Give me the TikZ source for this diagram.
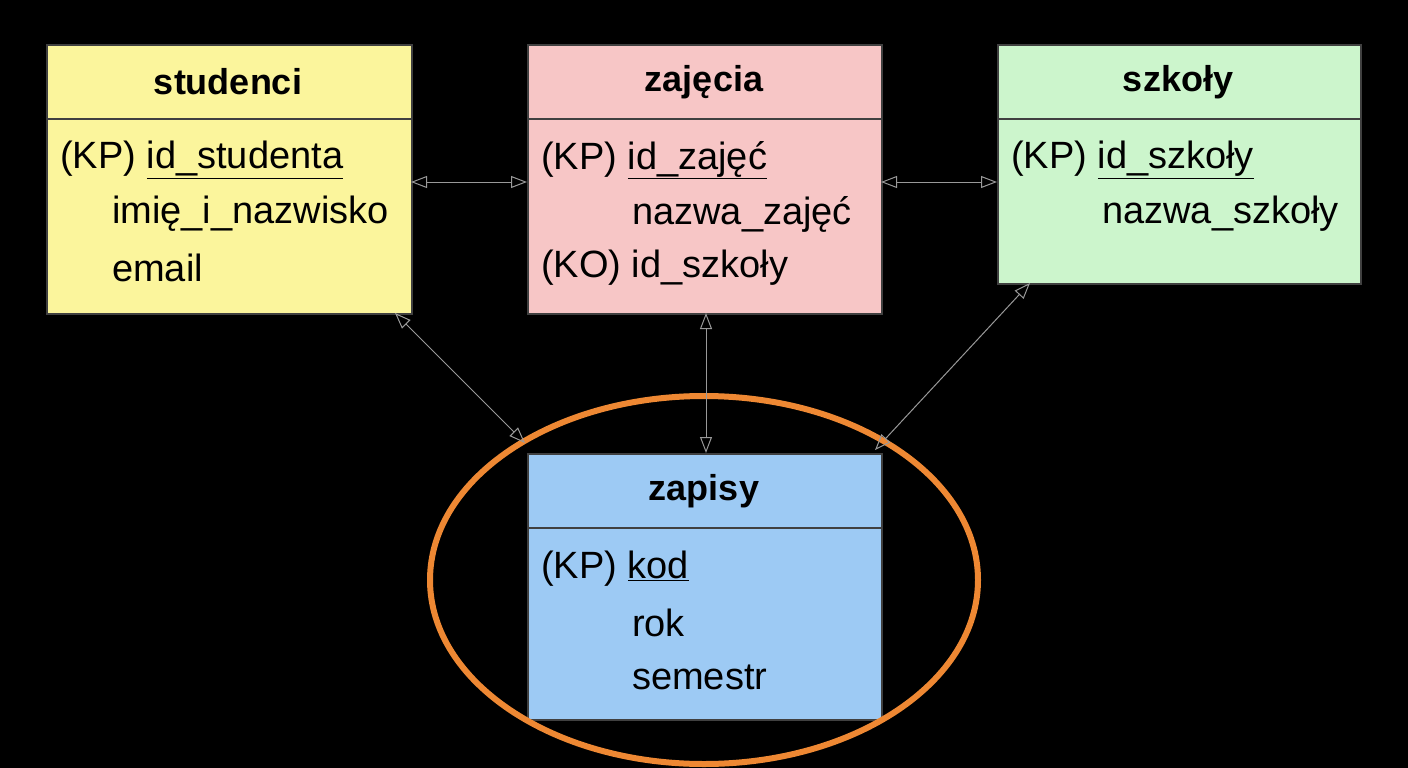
\documentclass[tikz,border=0pt]{standalone}
\usepackage{fontspec}
\setmainfont{Liberation Sans}
\usetikzlibrary{arrows.meta}
\definecolor{stud}{HTML}{FBF59C}
\definecolor{zaj}{HTML}{F7C6C6}
\definecolor{szk}{HTML}{CCF5CC}
\definecolor{zap}{HTML}{9DCAF4}
\definecolor{ramka}{HTML}{404040}
\definecolor{owal}{HTML}{EE8833}
\tikzset{
  tabela/.style={draw=ramka,line width=2pt,anchor=north west,inner sep=0pt},
  tytul/.style={font=\fontsize{36}{40}\selectfont\bfseries},
  pole/.style={font=\fontsize{38}{44}\selectfont,anchor=west,inner sep=0pt},
  relacja/.style={draw=gray!80,line width=1pt,{Triangle[open,length=16pt,width=12pt]}-{Triangle[open,length=16pt,width=12pt]}}
}
\begin{document}
\begin{tikzpicture}[x=1pt,y=-1pt]
\fill[black] (0,0) rectangle (1408,768);
\useasboundingbox (0,0) rectangle (1408,768);
% tabele
\node[tabela,fill=stud,minimum width=365pt,minimum height=269pt] (stud) at (46,44) {};
\node[tabela,fill=zaj,minimum width=354pt,minimum height=269pt] (zaj) at (527,44) {};
\node[tabela,fill=szk,minimum width=363pt,minimum height=239pt] (szk) at (997,44) {};
\node[tabela,fill=zap,minimum width=354pt,minimum height=266pt] (zap) at (527,453) {};
\draw[ramka,line width=2pt] (46,119) -- (411,119);
\draw[ramka,line width=2pt] (527,119) -- (881,119);
\draw[ramka,line width=2pt] (997,119) -- (1360,119);
\draw[ramka,line width=2pt] (527,528) -- (881,528);
% naglowki
\node[tytul] (tstud) at (228,82) {studenci};
\node[tytul] (tzaj) at (704,82) {zajęcia};
\node[tytul] (tszk) at (1178,82) {szkoły};
\node[tytul] (tzap) at (704,491) {zapisy};
% pola
\node[pole] (s1) at (60,160) {(KP) \underline{id\_studenta}};
\node[pole] (s2) at (112,214) {imię\_i\_nazwisko};
\node[pole] (s3) at (112,268) {email};
\node[pole] (z1) at (541,160) {(KP) \underline{id\_zajęć}};
\node[pole] (z2) at (632,214) {nazwa\_zajęć};
\node[pole] (z3) at (541,268) {(KO) id\_szkoły};
\node[pole] (k1) at (1011,160) {(KP) \underline{id\_szkoły}};
\node[pole] (k2) at (1102,214) {nazwa\_szkoły};
\node[pole] (p1) at (541,569) {(KP) \underline{kod}};
\node[pole] (p2) at (632,623) {rok};
\node[pole] (p3) at (632,677) {semestr};
% owal
\draw[owal,line width=6pt] (704,580) ellipse [x radius=274pt,y radius=184pt];
% relacje
\coordinate (a1) at (411,182); \coordinate (a2) at (527,182);
\coordinate (b1) at (881,182); \coordinate (b2) at (997,182);
\coordinate (c1) at (395,313); \coordinate (c2) at (525,443);
\coordinate (d1) at (706,313); \coordinate (d2) at (706,453);
\coordinate (e1) at (1030,283); \coordinate (e2) at (875,450);
\draw[relacja] (a1) -- (a2);
\draw[relacja] (b1) -- (b2);
\draw[relacja] (c1) -- (c2);
\draw[relacja] (d1) -- (d2);
\draw[relacja] (e1) -- (e2);
\end{tikzpicture}
\end{document}
